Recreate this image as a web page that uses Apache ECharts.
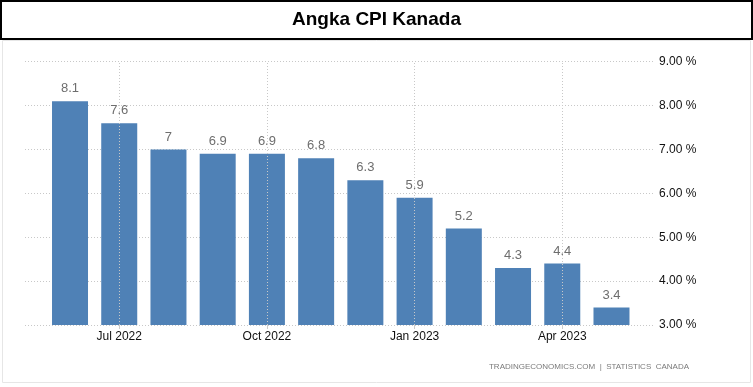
<!DOCTYPE html>
<html>
<head>
<meta charset="utf-8">
<script src="https://cdn.jsdelivr.net/npm/echarts@6/dist/echarts.min.js"></script>
<style>html,body{margin:0;padding:0;background:#fff}#c{width:753px;height:387px}</style>
</head>
<body>
<div id="c"></div>
<script>
const titleText = 'Angka CPI Kanada';
const months = ['Jun 2022','Jul 2022','Aug 2022','Sep 2022','Oct 2022','Nov 2022','Dec 2022','Jan 2023','Feb 2023','Mar 2023','Apr 2023','May 2023'];
const cpiValues = [8.1, 7.6, 7.0, 6.9, 6.9, 6.8, 6.3, 5.9, 5.2, 4.3, 4.4, 3.4];
const valueLabels = ['8.1','7.6','7','6.9','6.9','6.8','6.3','5.9','5.2','4.3','4.4','3.4'];
const shownMonths = ['Jul 2022','Oct 2022','Jan 2023','Apr 2023'];
const yMin = 3, yMax = 9, yStep = 1;
const sourceText = 'TRADINGECONOMICS.COM  |  STATISTICS  CANADA';

const chart = echarts.init(document.getElementById('c'), null, {renderer:'canvas'});
const gridTop = 61.7, gridBottom = 387 - 325;
chart.setOption({
  animation: false,
  backgroundColor: '#fff',
  graphic: [
    {type:'rect', shape:{x:2.5, y:40.5, width:748, height:342}, style:{fill:'none', stroke:'#e6e6e6', lineWidth:1}},
    {type:'rect', shape:{x:1, y:1, width:751, height:38}, style:{fill:'#fff', stroke:'#000', lineWidth:2}},
    {type:'text', x:376.5, y:20, style:{text:titleText, fill:'#000', font:'bold 19px "Liberation Sans", Arial, sans-serif', textAlign:'center', textVerticalAlign:'middle'}},
    {type:'text', x:689, y:367, style:{text:sourceText, fill:'#7a7a7a', font:'8px "Liberation Sans", Arial, sans-serif', textAlign:'right', textVerticalAlign:'middle'}}
  ],
  grid: [
    {left:25, right:98, top:gridTop, bottom:gridBottom},
    {left:45.4, right:753-636.1, top:gridTop, bottom:gridBottom}
  ],
  xAxis: [
    {type:'value', gridIndex:0, show:false, min:0, max:1},
    {type:'category', gridIndex:1, data:months, boundaryGap:true,
     axisLine:{show:false},
     axisTick:{show:true, alignWithLabel:true, length:4, interval:(i,v)=>shownMonths.includes(v), lineStyle:{color:'#ccc'}},
     axisLabel:{interval:(i,v)=>shownMonths.includes(v), color:'#111', fontSize:12, fontFamily:'"Liberation Sans", Arial, sans-serif', margin:6},
     splitLine:{show:false}}
  ],
  yAxis: [
    {type:'value', gridIndex:0, position:'right', min:yMin, max:yMax, interval:yStep,
     axisLine:{show:false}, axisTick:{show:false},
     axisLabel:{formatter:v=>v.toFixed(2)+' %', color:'#111', fontSize:12, fontFamily:'"Liberation Sans", Arial, sans-serif', margin:4},
     splitLine:{show:true, lineStyle:{color:'#c8c8c8', type:[1,2], width:1}}},
    {type:'value', gridIndex:1, min:yMin, max:yMax, interval:yStep, show:false, splitLine:{show:false}}
  ],
  series: [{
    type:'bar', xAxisIndex:1, yAxisIndex:1, data:cpiValues, barWidth:36,
    itemStyle:{color:'#4f81b6'},
    label:{show:true, position:'top', distance:6, color:'#6e6e6e', fontSize:13, fontFamily:'"Liberation Sans", Arial, sans-serif',
      formatter:p=>valueLabels[p.dataIndex]},
    markLine:{silent:true, symbol:['none','none'], label:{show:false},
      lineStyle:{color:'#c8c8c8', type:[1,2], width:1},
      data: shownMonths.map(m=>({xAxis:m}))}
  }]
});
</script>
</body>
</html>
